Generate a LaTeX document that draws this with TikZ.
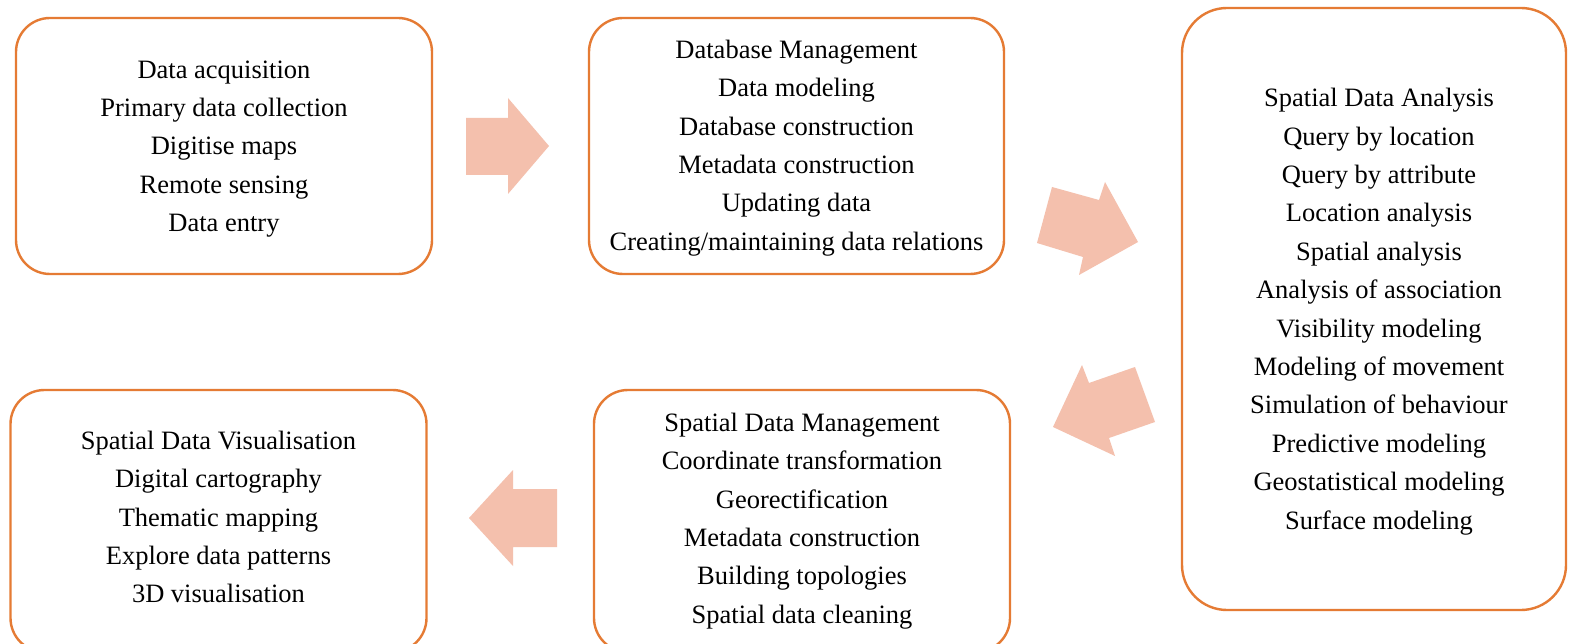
\documentclass[tikz,border=0pt]{standalone}
\usepackage{fontspec}
\setmainfont{Liberation Serif}
\definecolor{boxline}{RGB}{229,123,52}
\definecolor{arrowfill}{RGB}{244,192,173}
\begin{document}
\begin{tikzpicture}[x=1pt,y=-1pt,
  stagebox/.style={draw=boxline, line width=2.4pt, rounded corners=34pt, inner sep=0pt, anchor=center},
  stagetext/.style={align=center, font=\fontsize{26.5}{38.4}\selectfont, inner sep=0pt, anchor=center},
  fatarrow/.style={fill=arrowfill, draw=none}]
\useasboundingbox (0,0) rectangle (1569,644);
\clip (0,0) rectangle (1569,644);
\fill[white] (0,0) rectangle (1569,644);

\node[stagebox, minimum width=416pt, minimum height=256pt] (acq) at (224,146) {};
\node[stagetext] (acqtext) at ([yshift=-3pt]acq.center)
  {Data acquisition\\Primary data collection\\Digitise maps\\Remote sensing\\Data entry};
\node[stagebox, minimum width=415pt, minimum height=256pt] (dbm) at (796.5,146) {};
\node[stagetext] (dbmtext) at ([yshift=-2pt]dbm.center)
  {Database Management\\Data modeling\\Database construction\\Metadata construction\\Updating data\\Creating/maintaining data relations};
\node[stagebox, rounded corners=45pt, minimum width=384pt, minimum height=602pt] (sda) at (1374,309) {};
\node[stagetext] (sdatext) at ([xshift=5pt,yshift=-2.5pt]sda.center)
  {Spatial Data Analysis\\Query by location\\Query by attribute\\Location analysis\\Spatial analysis\\Analysis of association\\Visibility modeling\\Modeling of movement\\Simulation of behaviour\\Predictive modeling\\Geostatistical modeling\\Surface modeling};
\node[stagebox, minimum width=416pt, minimum height=262pt] (sdm) at (802,521) {};
\node[stagetext] (sdmtext) at (sdm.center)
  {Spatial Data Management\\Coordinate transformation\\Georectification\\Metadata construction\\Building topologies\\Spatial data cleaning};
\node[stagebox, minimum width=416pt, minimum height=262pt] (vis) at (218.5,521) {};
\node[stagetext] (vistext) at ([yshift=4pt]vis.center)
  {Spatial Data Visualisation\\Digital cartography\\Thematic mapping\\Explore data patterns\\3D visualisation};

% block arrows between stages
\fill[fatarrow] (466,118) -- (508,118) -- (508,98) -- (549,146) -- (508,194) -- (508,175) -- (466,175) -- cycle;
\fill[fatarrow] (1052,187) -- (1099,200) -- (1105,182) -- (1138,242) -- (1079,275) -- (1083,257) -- (1037,243) -- cycle;
\fill[fatarrow] (1135,367) -- (1155,422) -- (1109,438) -- (1115,456) -- (1053,427) -- (1082,365) -- (1089,383) -- cycle;
\fill[fatarrow] (557,489) -- (513,489) -- (513,470) -- (469,518) -- (513,566) -- (513,547) -- (557,547) -- cycle;
\end{tikzpicture}
\end{document}
